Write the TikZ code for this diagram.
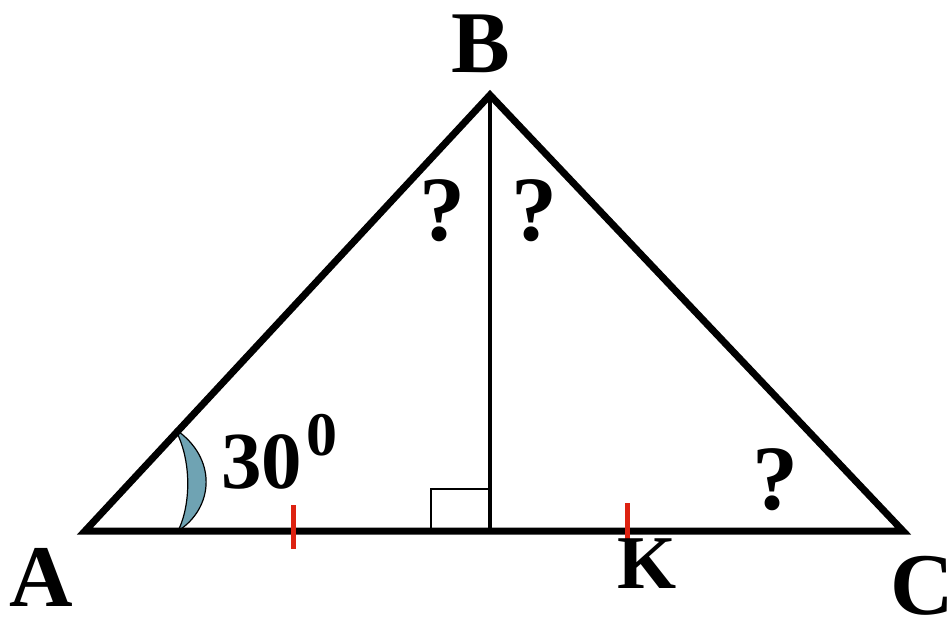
\documentclass[tikz,border=0pt]{standalone}
\usepackage{fontspec}
\setmainfont{Liberation Serif}
\definecolor{arcfill}{HTML}{6FA3B3}
\definecolor{tickred}{HTML}{DD2211}
\begin{document}
\begin{tikzpicture}[x=1pt,y=-1pt,
  lbl/.style={inner sep=0pt,anchor=base,font=\fontsize{88}{88}\selectfont\bfseries},
  qmark/.style={inner sep=0pt,anchor=base,font=\fontsize{92}{92}\selectfont\bfseries},
  side/.style={line width=7pt},
  tick/.style={tickred,line width=5pt}]
\useasboundingbox (0,0) rectangle (948,623);
\coordinate (A) at (85,531);
\coordinate (B) at (490,95);
\coordinate (C) at (903,531);
\coordinate (H) at (490,531);
% angle mark
\filldraw[fill=arcfill,draw=black,line width=1.2pt]
  (175,429) .. controls (218,458) and (214,508) .. (178,531)
  .. controls (191,505) and (192,460) .. (175,429);
% altitude and right angle
\draw[line width=4pt] (B) -- (H);
\draw[line width=2pt] (431,531) -- (431,489) -- (490,489);
% triangle
\draw[side] (A) -- (B) -- (C) -- cycle;
% ticks
\coordinate (t1a) at (293,505); \coordinate (t1b) at (293,549);
\coordinate (t2a) at (627,503); \coordinate (t2b) at (627,549);
\draw[tick] (t1a) -- (t1b);
\draw[tick] (t2a) -- (t2b);
% labels
\node[lbl] (lB) at (481,73) {B};
\node[lbl] (lA) at (41,606) {A};
\node[lbl] (lC) at (922,614) {C};
\node[lbl,font=\fontsize{76}{76}\selectfont\bfseries] (lK) at (647,588) {K};
\node[inner sep=0pt,anchor=base west,font=\fontsize{81}{81}\selectfont\bfseries] (l30) at (221,488) {30};
\node[inner sep=0pt,anchor=base west,font=\fontsize{62}{62}\selectfont\bfseries] (ldeg) at (306,455) {0};
\node[qmark] (q1) at (442,240) {?};
\node[qmark] (q2) at (534,240) {?};
\node[qmark] (q3) at (775,509) {?};
\end{tikzpicture}
\end{document}
